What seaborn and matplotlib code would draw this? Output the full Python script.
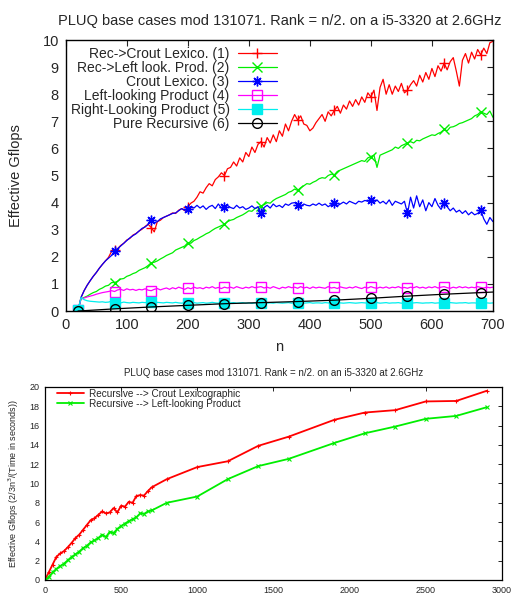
import numpy as np
import pandas as pd
import matplotlib
matplotlib.use("Agg")
import matplotlib.pyplot as plt
import seaborn as sns

# ---------------- top panel data (n = 20..700, step 5) ----------------
n_top = np.arange(20, 701, 5)

rec_crout = [
    0.02, 0.5, 0.75, 0.95, 1.12, 1.28, 1.42, 1.58, 1.72, 1.85,
    1.98, 2.2, 2.25, 2.3, 2.42, 2.5, 2.62, 2.68, 2.8, 2.86,
    2.95, 3.02, 3.12, 3.2, 3.08, 2.92, 3.3, 3.35, 3.45, 3.5,
    3.55, 3.62, 3.6, 3.72, 3.78, 3.7, 3.85, 3.98, 4.05, 4.2,
    4.4, 4.35, 4.55, 4.7, 4.62, 4.85, 4.95, 5.1, 5.0, 5.25,
    5.3, 5.5, 5.35, 5.65, 5.5, 5.85, 5.7, 6.05, 5.85, 6.15,
    6.25, 6.05, 6.4, 6.2, 6.5, 6.25, 6.65, 6.45, 6.9, 6.65,
    7.0, 7.25, 7.05, 7.2, 6.9, 6.85, 6.65, 6.75, 6.95, 7.1,
    7.25, 7.0, 7.35, 7.2, 7.4, 7.55, 7.3, 7.6, 7.45, 7.75,
    7.55, 7.8, 7.6, 7.9, 7.7, 8.05, 7.9, 8.15, 7.4, 8.25,
    8.55, 8.0, 8.35, 8.0, 8.3, 8.1, 8.4, 8.05, 8.15, 8.35,
    8.5, 8.3, 8.7, 8.45, 8.8, 8.55, 8.95, 8.65, 9.05, 8.85,
    9.15, 8.9, 9.2, 9.35, 8.85, 8.3, 9.25, 9.5, 9.15, 9.55,
    9.3, 9.65, 9.45, 9.7, 9.5, 9.9, 9.95,
]
rec_left = [
    0.02, 0.45, 0.5, 0.55, 0.62, 0.68, 0.72, 0.8, 0.85, 0.92,
    0.95, 1.05, 1.05, 1.1, 1.18, 1.2, 1.28, 1.32, 1.38, 1.42,
    1.5, 1.55, 1.6, 1.68, 1.78, 1.8, 1.85, 1.92, 1.98, 2.05,
    2.1, 2.15, 2.25, 2.3, 2.35, 2.4, 2.52, 2.5, 2.6, 2.65,
    2.72, 2.78, 2.85, 2.9, 2.98, 3.05, 3.1, 3.15, 3.2, 3.3,
    3.35, 3.38, 3.45, 3.5, 3.55, 3.62, 3.7, 3.68, 3.78, 3.82,
    3.88, 3.92, 4.0, 3.98, 4.08, 4.15, 4.2, 4.25, 4.3, 4.38,
    4.42, 4.5, 4.45, 4.55, 4.62, 4.7, 4.68, 4.75, 4.8, 4.88,
    4.92, 4.9, 5.0, 5.05, 5.02, 5.15, 5.2, 5.25, 5.3, 5.35,
    5.4, 5.45, 5.5, 5.55, 5.52, 5.65, 5.7, 5.75, 5.3, 5.75,
    5.8, 5.85, 5.9, 5.95, 6.05, 6.0, 6.1, 6.15, 6.2, 6.25,
    6.2, 6.3, 6.28, 6.35, 6.4, 6.45, 6.5, 6.48, 6.55, 6.6,
    6.7, 6.65, 6.78, 6.8, 6.85, 6.92, 6.95, 7.0, 7.05, 7.1,
    7.2, 7.25, 7.35, 7.3, 7.25, 7.38, 7.15,
]
crout = [
    0.02, 0.5, 0.75, 0.95, 1.12, 1.28, 1.42, 1.58, 1.72, 1.85,
    1.95, 2.05, 2.2, 2.3, 2.4, 2.5, 2.6, 2.7, 2.78, 2.85,
    2.95, 3.05, 3.1, 3.2, 3.35, 3.25, 3.3, 3.4, 3.45, 3.5,
    3.55, 3.6, 3.62, 3.7, 3.78, 3.72, 3.75, 3.85, 3.8, 3.9,
    3.8, 3.88, 3.75, 3.85, 3.9, 3.78, 3.95, 3.8, 3.85, 3.9,
    3.82, 3.78, 3.9, 3.8, 3.85, 3.75, 3.8, 3.88, 3.78, 3.85,
    3.6, 3.82, 3.9, 3.8, 3.95, 3.85, 3.9, 3.82, 3.95, 3.9,
    3.98, 4.0, 3.92, 3.85, 3.95, 3.9, 3.88, 3.95, 3.9, 3.98,
    3.9, 3.95, 3.85, 3.92, 3.98, 3.88, 3.95, 4.02, 3.95, 4.05,
    4.0, 3.95, 4.05, 4.02, 4.08, 4.05, 4.1, 4.0, 4.1, 3.98,
    4.05, 3.95, 4.1, 3.9, 4.05, 4.0, 3.95, 4.05, 3.6, 4.2,
    3.8, 4.25, 3.85, 4.1, 3.7, 4.0, 3.85, 4.15, 3.9, 3.75,
    3.98, 3.85, 3.7, 3.8, 3.65, 3.72, 3.6, 3.7, 3.55, 3.65,
    3.55, 3.6, 3.72, 3.4, 3.2, 3.45, 3.3,
]
left_prod = [
    0.02, 0.45, 0.48, 0.52, 0.55, 0.58, 0.62, 0.65, 0.68, 0.7,
    0.72, 0.75, 0.72, 0.78, 0.8, 0.76, 0.82, 0.78, 0.8, 0.76,
    0.8, 0.78, 0.82, 0.77, 0.75, 0.8, 0.83, 0.78, 0.82, 0.85,
    0.8, 0.86, 0.82, 0.88, 0.84, 0.8, 0.86, 0.82, 0.88, 0.84,
    0.86, 0.82, 0.88, 0.85, 0.9, 0.84, 0.87, 0.83, 0.88, 0.85,
    0.88, 0.84, 0.9, 0.86, 0.83, 0.88, 0.85, 0.9, 0.86, 0.88,
    0.9, 0.85, 0.88, 0.84, 0.9, 0.86, 0.82, 0.88, 0.85, 0.9,
    0.86, 0.88, 0.84, 0.9, 0.85, 0.88, 0.83, 0.89, 0.85, 0.88,
    0.86, 0.84, 0.9, 0.85, 0.87, 0.83, 0.89, 0.86, 0.84, 0.88,
    0.85, 0.9, 0.86, 0.83, 0.88, 0.85, 0.9, 0.86, 0.84, 0.88,
    0.85, 0.89, 0.84, 0.88, 0.86, 0.9, 0.85, 0.87, 0.84, 0.88,
    0.86, 0.9, 0.85, 0.88, 0.84, 0.89, 0.86, 0.9, 0.85, 0.88,
    0.9, 0.86, 0.84, 0.88, 0.85, 0.9, 0.86, 0.89, 0.85, 0.88,
    0.86, 0.9, 0.87, 0.85, 0.88, 0.86, 0.88,
]
right_prod = [
    0.02, 0.5, 0.42, 0.38, 0.36, 0.35, 0.34, 0.33, 0.34, 0.32,
    0.33, 0.36, 0.31, 0.32, 0.3, 0.33, 0.31, 0.3, 0.32, 0.31,
    0.3, 0.32, 0.31, 0.33, 0.34, 0.3, 0.32, 0.31, 0.3, 0.32,
    0.31, 0.3, 0.32, 0.3, 0.29, 0.31, 0.28, 0.3, 0.31, 0.29,
    0.3, 0.31, 0.29, 0.3, 0.32, 0.3, 0.29, 0.31, 0.3, 0.29,
    0.3, 0.31, 0.29, 0.3, 0.31, 0.29, 0.3, 0.28, 0.3, 0.29,
    0.3, 0.31, 0.29, 0.3, 0.29, 0.31, 0.3, 0.29, 0.3, 0.31,
    0.29, 0.3, 0.31, 0.3, 0.29, 0.3, 0.31, 0.29, 0.3, 0.3,
    0.29, 0.31, 0.3, 0.29, 0.3, 0.31, 0.3, 0.29, 0.3, 0.31,
    0.3, 0.29, 0.3, 0.31, 0.3, 0.29, 0.3, 0.3, 0.31, 0.29,
    0.3, 0.31, 0.29, 0.3, 0.3, 0.31, 0.29, 0.3, 0.3, 0.29,
    0.3, 0.31, 0.3, 0.29, 0.3, 0.3, 0.31, 0.29, 0.3, 0.3,
    0.29, 0.3, 0.31, 0.3, 0.29, 0.3, 0.3, 0.31, 0.29, 0.3,
    0.3, 0.29, 0.3, 0.31, 0.3, 0.29, 0.3,
]
n_rec = [20, 80, 140, 200, 260, 320, 380, 440, 500, 560, 620, 680, 700]
pure_rec = [0.0, 0.08, 0.15, 0.21, 0.27, 0.31, 0.35, 0.4, 0.47, 0.55, 0.62, 0.68, 0.7]

# ---------------- bottom panel data ----------------
n_bot = [0, 25, 50, 75, 100, 125, 150, 175, 200, 225, 250, 275, 300, 325, 350,
         375, 400, 425, 450, 475, 500, 525, 550, 575, 600, 625, 650, 675, 700,
         800, 1000, 1200, 1400, 1600, 1900, 2100, 2300, 2500, 2700, 2900]
bot_crout = [0.0, 0.8, 1.6, 2.4, 2.75, 3.0, 3.4, 3.85, 4.35, 4.7, 5.2, 5.7, 6.2, 6.4, 6.75,
             7.1, 6.9, 7.0, 7.45, 7.0, 7.7, 7.6, 8.1, 8.0, 8.7, 8.8, 8.75, 9.2, 9.6,
             10.45, 11.7, 12.3, 13.9, 14.85, 16.6, 17.35, 17.6, 18.5, 18.55, 19.6]
bot_left = [0.0, 0.3, 0.8, 1.15, 1.45, 1.7, 2.05, 2.4, 2.65, 2.95, 3.3, 3.55, 3.9, 4.1, 4.35,
            4.7, 4.45, 5.0, 4.85, 5.3, 5.6, 5.85, 6.1, 6.3, 6.5, 6.9, 6.85, 7.1, 7.2,
            8.0, 8.65, 10.45, 11.8, 12.55, 14.2, 15.2, 15.9, 16.7, 17.0, 17.9]

top_series = [
    ("Rec->Crout Lexico. (1)", n_top, rec_crout, "#ff0000", "+", "#ff0000", 12),
    ("Rec->Left look. Prod. (2)", n_top, rec_left, "#00ee00", "x", "#00ee00", 12),
    ("Crout Lexico. (3)", n_top, crout, "#0000ff", (8, 2, 0), "#0000ff", 12),
    ("Left-looking Product (4)", n_top, left_prod, "#ff00ff", "s", "none", 12),
    ("Right-Looking Product (5)", n_top, right_prod, "#00eeee", "s", "#00eeee", 12),
    ("Pure Recursive (6)", n_rec, pure_rec, "#000000", "o", "none", slice(0, 12)),
]

sns.set_theme(style="white")
plt.rcParams["font.family"] = ["Liberation Sans", "DejaVu Sans"]
plt.rcParams["xtick.direction"] = "in"
plt.rcParams["ytick.direction"] = "in"

fig = plt.figure(figsize=(5.14, 6.07), dpi=100)

# ---------------- top panel ----------------
ax1 = fig.add_axes([0.128, 0.4876, 0.831, 0.4465])
for label, xs, ys, color, marker, face, every in top_series:
    df = pd.DataFrame({"n": xs, "gflops": ys})
    sns.lineplot(data=df, x="n", y="gflops", ax=ax1, color=color, lw=0.9,
                 marker=marker, markersize=7, markevery=every,
                 markerfacecolor=face, markeredgecolor=color, markeredgewidth=1.0,
                 estimator=None, label=label, legend=False)

ax1.set_xlim(0, 700)
ax1.set_ylim(0, 10)
ax1.set_xticks(range(0, 701, 100))
ax1.set_yticks(range(0, 11))
ax1.tick_params(axis="both", labelsize=10.5, length=4, width=0.8,
                top=True, right=True, direction="in", pad=5)
ax1.set_xlabel("n", fontsize=10.5, labelpad=6)
ax1.set_ylabel("Effective Gflops", fontsize=10.5, labelpad=14)
ax1.set_title("PLUQ base cases mod 131071. Rank = n/2. on a i5-3320 at 2.6GHz",
              fontsize=10.5, pad=11)
for sp in ax1.spines.values():
    sp.set_color("black")
    sp.set_linewidth(1.0)
h, l = ax1.get_legend_handles_labels()
ax1.legend(h, l, loc="upper right", bbox_to_anchor=(0.494, 0.975), frameon=False,
           markerfirst=False, fontsize=10, handlelength=2.8, handletextpad=0.6,
           labelspacing=0.0, borderpad=0, borderaxespad=0)

# ---------------- bottom panel ----------------
ax2 = fig.add_axes([0.0875, 0.0445, 0.889, 0.318])
df_b = pd.DataFrame({"n": n_bot, "crout": bot_crout, "left": bot_left})
sns.lineplot(data=df_b, x="n", y="crout", ax=ax2, color="#ff0000", lw=1.3,
             marker="+", markersize=3, markeredgecolor="#ff0000", markeredgewidth=0.8,
             estimator=None, label="Recursive --> Crout Lexicographic", legend=False)
sns.lineplot(data=df_b, x="n", y="left", ax=ax2, color="#00ee00", lw=1.3,
             marker="x", markersize=3, markeredgecolor="#00ee00", markeredgewidth=0.8,
             estimator=None, label="Recursive --> Left-looking Product", legend=False)
ax2.set_xlim(0, 3000)
ax2.set_ylim(0, 20)
ax2.set_xticks(range(0, 3001, 500))
ax2.set_yticks(range(0, 21, 2))
ax2.tick_params(axis="both", labelsize=6.5, length=3, width=0.7,
                top=True, right=True, direction="in", pad=4)
ax2.set_xlabel("")
ax2.set_ylabel("Effective Gflops (2/3n$^3$/(Time in seconds))", fontsize=6.5, labelpad=6)
ax2.set_title("PLUQ base cases mod 131071. Rank = n/2. on an i5-3320 at 2.6GHz",
              fontsize=7, pad=8)
for sp in ax2.spines.values():
    sp.set_color("black")
    sp.set_linewidth(0.9)
h2, l2 = ax2.get_legend_handles_labels()
ax2.legend(h2, l2, loc="upper left", bbox_to_anchor=(0.026, 0.99), frameon=False,
           fontsize=7.2, handlelength=2.7, handletextpad=0.5, labelspacing=0.0,
           borderpad=0, borderaxespad=0)

fig.savefig("out.png", dpi=100)
